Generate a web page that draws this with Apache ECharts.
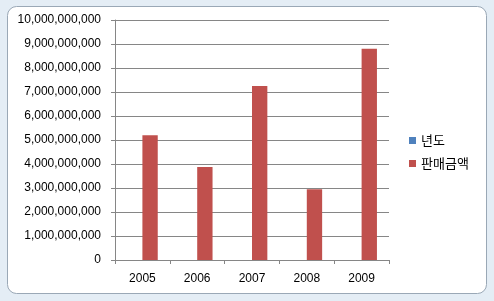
<!DOCTYPE html>
<html><head><meta charset="utf-8">
<script src="https://cdn.jsdelivr.net/npm/echarts@6/dist/echarts.min.js"></script>
<style>html,body{margin:0;padding:0;background:#e4edf5;}#c{width:494px;height:301px;}</style>
</head><body><div id="c"></div>
<script>
var categories = ['2005','2006','2007','2008','2009'];
var yearValues = [null, null, null, null, null];
var salesValues = [5200000000, 3870000000, 7250000000, 2950000000, 8800000000];
var seriesNames = ['년도', '판매금액'];

var chart = echarts.init(document.getElementById('c'));
function fmt(v){ return String(v).replace(/\B(?=(\d{3})+(?!\d))/g, ','); }
chart.setOption({
  animation: false,
  backgroundColor: '#e4edf5',
  graphic: [{
    type: 'rect', z: -10, silent: true,
    shape: { x: 7.5, y: 6.5, width: 479, height: 287, r: 9 },
    style: { fill: '#ffffff', stroke: '#9aa8b6', lineWidth: 1 }
  }],
  grid: { left: 115, right: 105, top: 20, bottom: 41 },
  legend: {
    orient: 'vertical', left: 404, top: 129, itemWidth: 7, itemHeight: 7, itemGap: 10,
    icon: 'rect', itemTextGap: 4,
    textStyle: { fontFamily: '"Noto Sans CJK KR", sans-serif', fontSize: 13, color: '#000' },
    data: seriesNames
  },
  xAxis: {
    type: 'category', data: categories,
    axisLine: { lineStyle: { color: '#868686' } },
    axisTick: { show: true, length: 4, lineStyle: { color: '#868686' } },
    axisLabel: { color: '#000', fontSize: 12, fontFamily: '"Liberation Sans", Arial, sans-serif', margin: 13 }
  },
  yAxis: {
    type: 'value', min: 0, max: 10000000000, interval: 1000000000,
    axisLine: { show: true, lineStyle: { color: '#868686' } },
    axisTick: { show: true, length: 4, lineStyle: { color: '#868686' } },
    splitLine: { lineStyle: { color: '#868686', width: 1 } },
    axisLabel: { color: '#000', fontSize: 12, fontFamily: '"Liberation Sans", Arial, sans-serif', margin: 14, formatter: fmt }
  },
  series: [
    { name: seriesNames[0], type: 'bar', data: yearValues, itemStyle: { color: '#4F81BD' }, barGap: '0%', barCategoryGap: '44%' },
    { name: seriesNames[1], type: 'bar', data: salesValues, itemStyle: { color: '#C0504D' }, barGap: '0%', barCategoryGap: '44%' }
  ]
});
</script></body></html>
